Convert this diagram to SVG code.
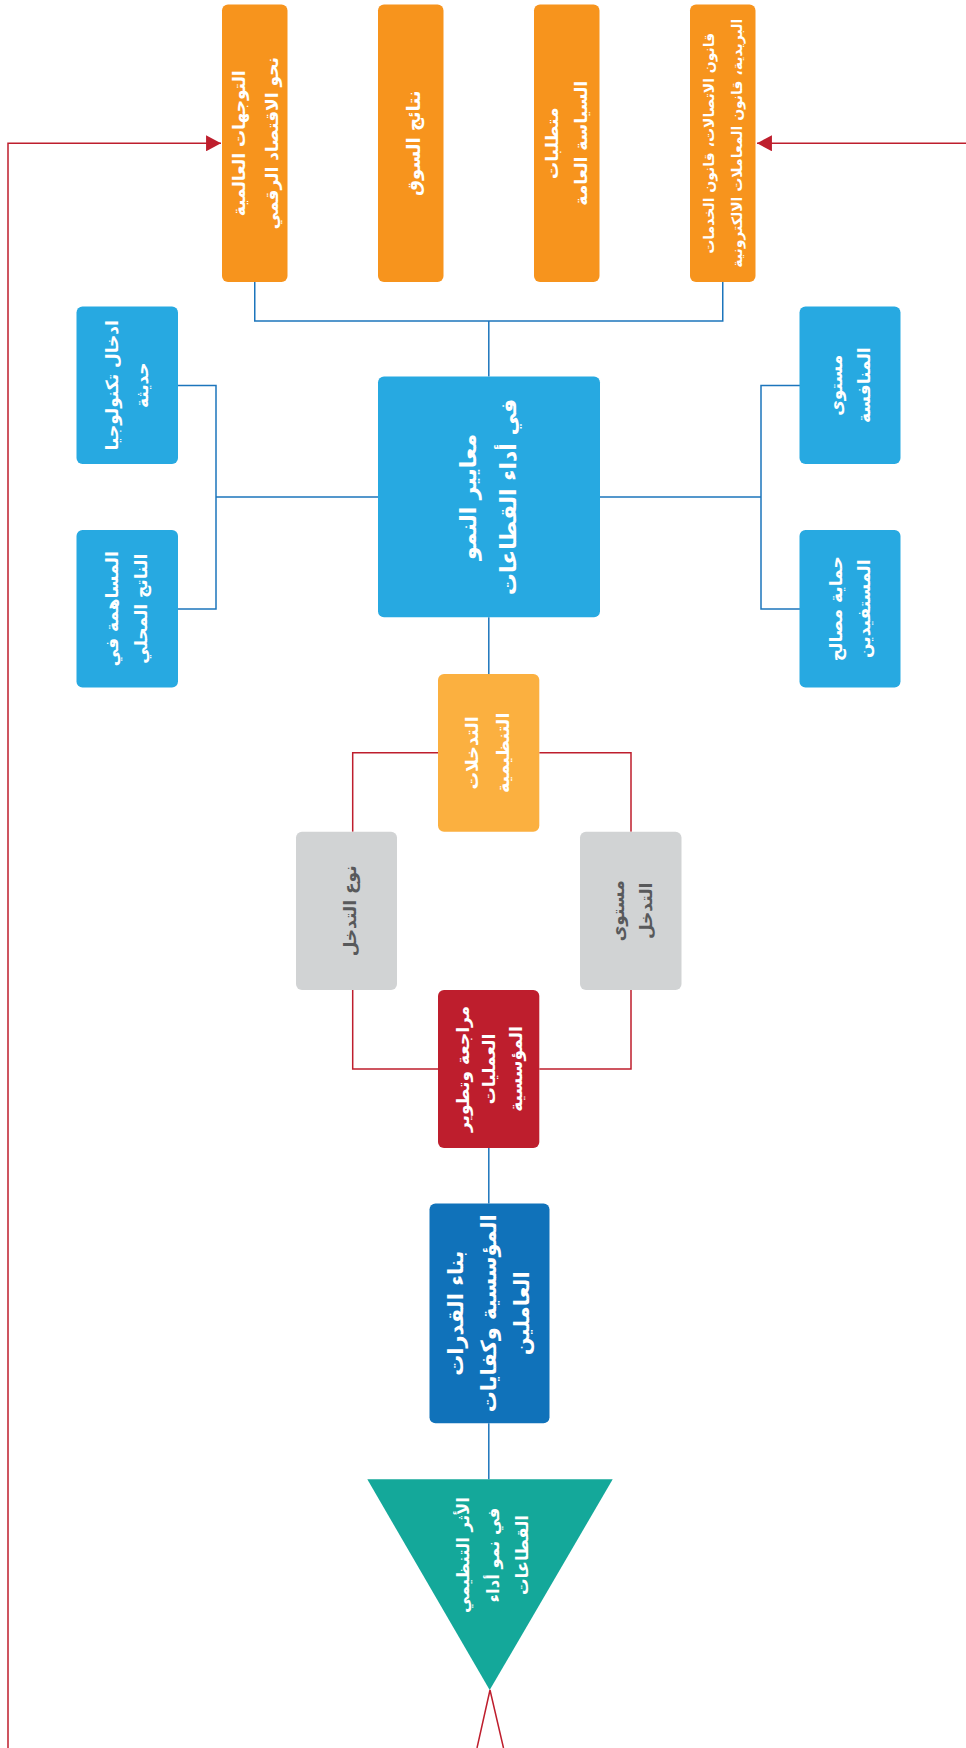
<svg xmlns="http://www.w3.org/2000/svg" width="966" height="1748" viewBox="0 0 966 1748">
<defs>
<marker id="arr" markerUnits="userSpaceOnUse" markerWidth="16" markerHeight="16" viewBox="0 0 14 15" refX="14" refY="7.5" orient="auto">
<path d="M0,0 L14,7.5 L0,15 Z" fill="#be1e2d"/>
</marker>
</defs>
<style>
.t{font-family:"DejaVu Sans",sans-serif;font-weight:bold;fill:#ffffff;text-anchor:middle;dominant-baseline:central}
.g{fill:#58595b}
.bl{fill:none;stroke:#1c75bc;stroke-width:1.5}
.rd{fill:none;stroke:#be1e2d;stroke-width:1.5}
.or{fill:#f7941d}
.lb{fill:#27a9e1}
</style>
<rect width="966" height="1748" fill="#ffffff"/>
<g id="connectors">
<path class="bl" d="M254.75,282 V321 H722.75 V282"/>
<path class="bl" d="M488.8,321 V376.6"/>
<path class="bl" d="M178,385.5 H216 V609 H178 M216,497 H378"/>
<path class="bl" d="M800,385.5 H761 V609 H800 M761,497 H600"/>
<path class="bl" d="M488.8,617.3 V674"/>
<path class="rd" d="M438,752.7 H352.7 V831.7"/>
<path class="rd" d="M539.3,752.7 H631 V831.7"/>
<path class="rd" d="M352.7,990 V1069 H438"/>
<path class="rd" d="M631,990 V1069 H539.3"/>
<path class="bl" d="M488.8,1148 V1203.4"/>
<path class="bl" d="M488.8,1423.3 V1479.3"/>
<path class="rd" d="M8,1748 V143.3 H221" marker-end="url(#arr)"/>
<path class="rd" d="M966,143.3 H757" marker-end="url(#arr)"/>
<path class="rd" d="M477,1748 L490,1690 L503.5,1748"/>
</g>
<g id="n-trends">
<rect class="or" x="222" y="4.5" width="65.5" height="277.5" rx="6"/>
<g transform="translate(254.75,143.25) rotate(-90)">
<text class="t" x="0" y="-16" font-size="17">التوجهات العالمية</text>
<text class="t" x="0" y="17" font-size="17">نحو الاقتصاد الرقمي</text>
</g>
</g>
<g id="n-market">
<rect class="or" x="378" y="4.5" width="65.5" height="277.5" rx="6"/>
<g transform="translate(410.75,143.25) rotate(-90)">
<text class="t" x="0" y="3" font-size="18">نتائج السوق</text>
</g>
</g>
<g id="n-policy">
<rect class="or" x="534" y="4.5" width="65.5" height="277.5" rx="6"/>
<g transform="translate(566.75,143.25) rotate(-90)">
<text class="t" x="0" y="-15" font-size="17">متطلبات</text>
<text class="t" x="0" y="14" font-size="17">السياسة العامة</text>
</g>
</g>
<g id="n-law">
<rect class="or" x="690" y="4.5" width="65.5" height="277.5" rx="6"/>
<g transform="translate(722.75,143.25) rotate(-90)">
<text class="t" x="0" y="-14" font-size="14">قانون الاتصالات، قانون الخدمات</text>
<text class="t" x="0" y="14" font-size="14">البريدية، قانون المعاملات الالكترونية</text>
</g>
</g>
<g id="n-criteria">
<rect class="lb" x="378" y="376.6" width="222" height="240.7" rx="6"/>
<g transform="translate(489,497) rotate(-90)">
<text class="t" x="0" y="-21" font-size="22">معايير النمو</text>
<text class="t" x="0" y="19" font-size="22">في أداء القطاعات</text>
</g>
</g>
<g id="n-tech">
<rect class="lb" x="76.5" y="306.5" width="101.5" height="157.5" rx="6"/>
<g transform="translate(127.25,385.25) rotate(-90)">
<text class="t" x="0" y="-15" font-size="17">ادخال تكنولوجيا</text>
<text class="t" x="0" y="15" font-size="17">حديثة</text>
</g>
</g>
<g id="n-gdp">
<rect class="lb" x="76.5" y="530" width="101.5" height="157.5" rx="6"/>
<g transform="translate(127.25,608.75) rotate(-90)">
<text class="t" x="0" y="-15" font-size="17">المساهمة في</text>
<text class="t" x="0" y="14" font-size="17">الناتج المحلي</text>
</g>
</g>
<g id="n-competition">
<rect class="lb" x="799.5" y="306.5" width="101" height="157.5" rx="6"/>
<g transform="translate(850,385.25) rotate(-90)">
<text class="t" x="0" y="-14" font-size="17">مستوى</text>
<text class="t" x="0" y="14" font-size="17">المنافسة</text>
</g>
</g>
<g id="n-protection">
<rect class="lb" x="799.5" y="530" width="101" height="157.5" rx="6"/>
<g transform="translate(850,608.75) rotate(-90)">
<text class="t" x="0" y="-14" font-size="17">حماية مصالح</text>
<text class="t" x="0" y="14" font-size="17">المستفيدين</text>
</g>
</g>
<g id="n-interventions">
<rect x="438" y="674" width="101.3" height="157.7" rx="6" fill="#fbb040"/>
<g transform="translate(488.65,752.85) rotate(-90)">
<text class="t" x="0" y="-17" font-size="17.5">التدخلات</text>
<text class="t" x="0" y="14" font-size="17.5">التنظيمية</text>
</g>
</g>
<g id="n-type">
<rect x="296" y="831.7" width="101" height="158.3" rx="6" fill="#d1d3d4"/>
<g transform="translate(346.5,910.85) rotate(-90)">
<text class="t g" x="0" y="3" font-size="17">نوع التدخل</text>
</g>
</g>
<g id="n-level">
<rect x="580" y="831.7" width="101.5" height="158.3" rx="6" fill="#d1d3d4"/>
<g transform="translate(630.75,910.85) rotate(-90)">
<text class="t g" x="0" y="-13" font-size="17">مستوى</text>
<text class="t g" x="0" y="15" font-size="17">التدخل</text>
</g>
</g>
<g id="n-review">
<rect x="438" y="990" width="101.3" height="158" rx="6" fill="#be1e2d"/>
<g transform="translate(488.65,1069) rotate(-90)">
<text class="t" x="0" y="-26" font-size="17">مراجعة وتطوير</text>
<text class="t" x="0" y="0" font-size="17">العمليات</text>
<text class="t" x="0" y="27" font-size="17">المؤسسية</text>
</g>
</g>
<g id="n-capacity">
<rect x="429.5" y="1203.4" width="120" height="219.9" rx="6" fill="#1072ba"/>
<g transform="translate(489.5,1313.3) rotate(-90)">
<text class="t" x="0" y="-34" font-size="21">بناء القدرات</text>
<text class="t" x="0" y="-1" font-size="21">المؤسسية وكفايات</text>
<text class="t" x="0" y="32" font-size="21">العاملين</text>
</g>
</g>
<g id="n-impact">
<polygon points="367.3,1479.3 612.7,1479.3 489.7,1690" fill="#14a89a"/>
<g transform="translate(491,1555) rotate(-90)">
<text class="t" x="0" y="-28" font-size="16.5">الأثر التنظيمي</text>
<text class="t" x="0" y="2" font-size="16.5">في نمو أداء</text>
<text class="t" x="0" y="31" font-size="16.5">القطاعات</text>
</g>
</g>
</svg>
